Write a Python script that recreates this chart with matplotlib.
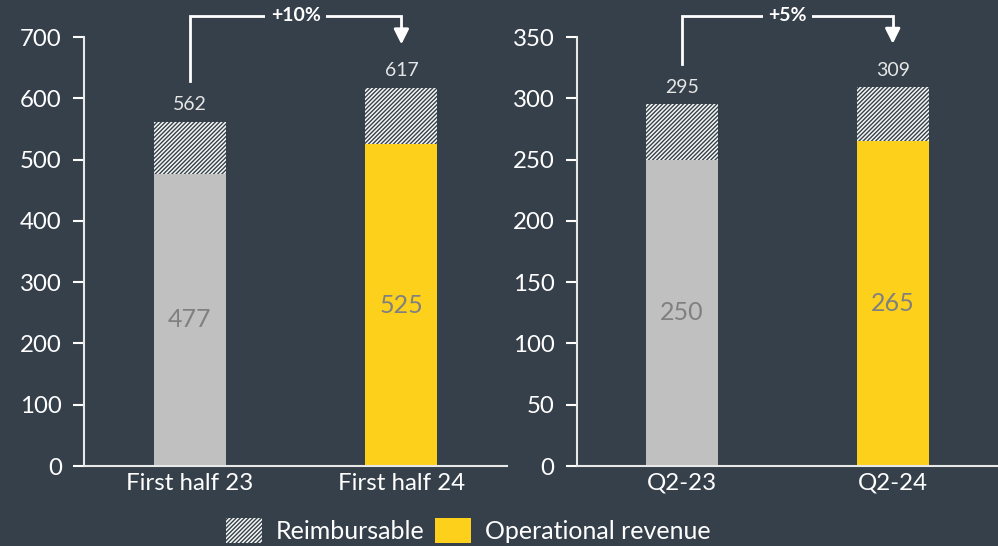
import matplotlib.pyplot as plt
from matplotlib.patches import Patch

plt.rcParams['font.family'] = ['Lato', 'DejaVu Sans']
plt.rcParams['hatch.linewidth'] = 1.0

# values per panel
half_labels = ['First half 23', 'First half 24']
half_operational = [477, 525]
half_total = [562, 617]
half_growth = '+10%'

quarter_labels = ['Q2-23', 'Q2-24']
quarter_operational = [250, 265]
quarter_total = [295, 309]
quarter_growth = '+5%'

bg = '#36404a'
yellow = '#fdd01b'
grey = '#c0c0c0'
hatch_face = '#f6f8f5'
HATCH = '////////'

fig = plt.figure(figsize=(9.98, 5.46), dpi=100, facecolor=bg)
ax1 = fig.add_axes([0.0842, 0.1465, 0.424, 0.7857])
ax2 = fig.add_axes([0.578, 0.1465, 0.422, 0.7857])


def draw_panel(ax, labels, operational, total, growth, ymax, step):
    ax.set_facecolor(bg)
    x = range(len(labels))
    colors = [grey, yellow]
    reimb = [t - o for t, o in zip(total, operational)]
    ax.bar(x, operational, width=0.34, color=colors, linewidth=0)
    ax.bar(x, reimb, bottom=operational, width=0.34, color=hatch_face,
           edgecolor=bg, hatch=HATCH, linewidth=0)
    for i in x:
        ax.text(i, operational[i] / 2, str(operational[i]), ha='center', va='center',
                color='#808080', fontsize=18)
        ax.text(i, total[i] + ymax * 0.02, str(total[i]), ha='center', va='bottom',
                color='#e6e6e6', fontsize=14)

    # growth bracket from first bar to second
    y_start = total[0] + ymax * 0.095
    y_top = ymax * 1.05
    y_tip = total[1] + ymax * 0.095
    ax.plot([0, 0, 1, 1], [y_start, y_top, y_top, y_tip + ymax * 0.02],
            color='white', lw=2, clip_on=False, solid_joinstyle='miter')
    ax.annotate('', xy=(1, y_tip), xytext=(1, y_tip + ymax * 0.03),
                arrowprops=dict(arrowstyle='-|>,head_width=0.45,head_length=0.9',
                                color='white', lw=2), annotation_clip=False)
    ax.text(0.5, y_top, growth, ha='center', va='center', color='white',
            fontsize=14, fontweight='bold', clip_on=False,
            bbox=dict(facecolor=bg, edgecolor='none', pad=4))

    ax.set_xlim(-0.5, 1.5)
    ax.set_ylim(0, ymax)
    ax.set_yticks(range(0, ymax + 1, step))
    ax.set_xticks(list(x))
    ax.set_xticklabels(labels)
    ax.tick_params(axis='y', colors='white', labelsize=17.3, length=8, width=1.5, pad=8)
    ax.tick_params(axis='x', colors='white', labelsize=17.3, length=0, pad=5)
    for s in ['top', 'right']:
        ax.spines[s].set_visible(False)
    for s in ['left', 'bottom']:
        ax.spines[s].set_color('#e8e8e8')
        ax.spines[s].set_linewidth(1.5)


draw_panel(ax1, half_labels, half_operational, half_total, half_growth, 700, 100)
draw_panel(ax2, quarter_labels, quarter_operational, quarter_total, quarter_growth, 350, 50)

handles = [Patch(facecolor=hatch_face, edgecolor=bg, hatch=HATCH, linewidth=0),
           Patch(facecolor=yellow, linewidth=0)]
fig.legend(handles, ['Reimbursable', 'Operational revenue'], loc='center',
           bbox_to_anchor=(0.469, 0.029), ncol=2, frameon=False, fontsize=18,
           labelcolor='white', handlelength=1.45, handleheight=1.15, columnspacing=0.4,
           handletextpad=0.55)

fig.savefig('out.png', dpi=100, facecolor=bg)
